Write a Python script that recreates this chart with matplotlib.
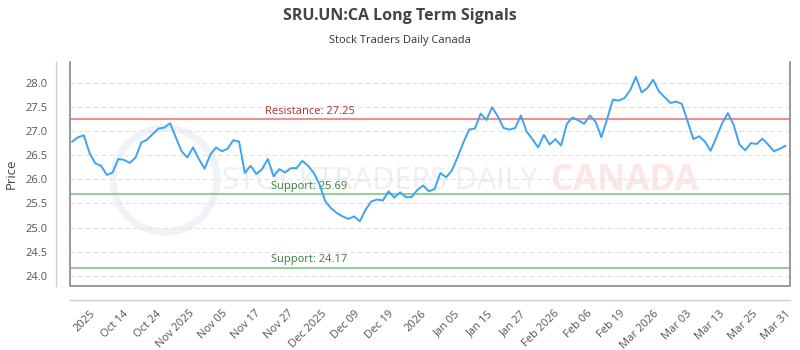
import numpy as np
import matplotlib
matplotlib.use("Agg")
import matplotlib.pyplot as plt
from matplotlib.patches import Circle

plt.rcParams['font.family'] = ['Open Sans', 'DejaVu Sans']

# closing prices, one per trading day (Oct 2025 - Mar 2026)
prices = [
    26.78, 26.87, 26.91, 26.54, 26.33, 26.28, 26.09, 26.14, 26.42, 26.40,
    26.34, 26.45, 26.76, 26.82, 26.94, 27.05, 27.07, 27.16, 26.87, 26.58,
    26.45, 26.66, 26.42, 26.22, 26.51, 26.66, 26.58, 26.63, 26.81, 26.78,
    26.13, 26.28, 26.11, 26.21, 26.42, 26.06, 26.21, 26.14, 26.23, 26.23,
    26.38, 26.28, 26.13, 25.89, 25.54, 25.40, 25.30, 25.23, 25.18, 25.23,
    25.13, 25.37, 25.54, 25.58, 25.56, 25.75, 25.62, 25.73, 25.63, 25.63,
    25.78, 25.87, 25.75, 25.80, 26.13, 26.04, 26.18, 26.46, 26.76, 27.03,
    27.05, 27.36, 27.23, 27.49, 27.30, 27.06, 27.03, 27.06, 27.32, 26.99,
    26.83, 26.66, 26.92, 26.72, 26.83, 26.70, 27.15, 27.28, 27.22, 27.15,
    27.32, 27.19, 26.87, 27.25, 27.65, 27.63, 27.68, 27.84, 28.12, 27.80,
    27.89, 28.06, 27.82, 27.70, 27.58, 27.61, 27.56, 27.20, 26.83, 26.89,
    26.78, 26.59, 26.87, 27.16, 27.37, 27.13, 26.72, 26.60, 26.75, 26.73,
    26.84, 26.72, 26.58, 26.63, 26.69,
]

resistance = 27.25
supports = [25.69, 24.17]

tick_labels = [
    "2025", "Oct 14", "Oct 24", "Nov 2025", "Nov 05", "Nov 17", "Nov 27",
    "Dec 2025", "Dec 09", "Dec 19", "2026", "Jan 05", "Jan 15", "Jan 27",
    "Feb 2026", "Feb 06", "Feb 19", "Mar 2026", "Mar 03", "Mar 13",
    "Mar 25", "Mar 31",
]
y_ticks = [24.0, 24.5, 25.0, 25.5, 26.0, 26.5, 27.0, 27.5, 28.0]

x = np.arange(len(prices))

fig = plt.figure(figsize=(8, 3.5), dpi=100)
ax = fig.add_axes([0.0875, 0.183, 0.9, 0.64])

# outer axis lines (set before ticks: set_position resets the ticks)
ax.spines["top"].set_visible(False)
ax.spines["right"].set_visible(False)
ax.spines["left"].set_position(("outward", 10))
ax.spines["bottom"].set_position(("outward", 10))
for side in ["left", "bottom"]:
    ax.spines[side].set_color("#cccccc")
    ax.spines[side].set_linewidth(1)

# watermark
ax.text(0.43, 0.47, "STOCKTRADERS DAILY", transform=ax.transAxes, fontsize=22,
        color="#eceff4", ha="center", va="center", zorder=0)
ax.text(0.77, 0.47, "CANADA", transform=ax.transAxes, fontsize=25,
        fontweight="bold", color="#fde6e6", ha="center", va="center", zorder=0)
ax.add_patch(Circle((1.65, 1.7), 0.52, transform=fig.dpi_scale_trans,
                    fill=False, lw=5, ec="#eff2f7", zorder=0))

for yt in y_ticks:
    ax.axhline(yt, color="#e2e2e2", lw=0.8, ls=(0, (4, 3)), zorder=1)

ax.axhline(resistance, color="#ee9090", lw=1.5, zorder=2)
ax.text(33.5, resistance + 0.05, f"Resistance: {resistance:.2f}",
        color="#b03030", fontsize=8, va="bottom", ha="left")
for s in supports:
    ax.axhline(s, color="#99cc99", lw=1.5, zorder=2)
    ax.text(34.5, s + 0.05, f"Support: {s:.2f}", color="#3a7d3a",
            fontsize=8, va="bottom", ha="left")

ax.plot(x, prices, color="#3da3f5", lw=1.4, zorder=3)

ax.set_xlim(-0.4, 124.8)
ax.set_ylim(23.79, 28.43)
ax.tick_params(axis="both", length=0, labelsize=8, colors="#555555", pad=6)
ax.set_yticks(y_ticks)
ax.set_yticklabels([f"{v:.1f}" for v in y_ticks])
ax.set_xticks(np.linspace(3, 124, len(tick_labels)))
ax.set_xticklabels(tick_labels, rotation=45, ha="right", rotation_mode="anchor")
ax.set_ylabel("Price", fontsize=9.5, color="#444444", labelpad=6)

# inner frame
ax.plot([0, 0, 1, 1], [1, 0, 0, 1], transform=ax.transAxes, color="#888888",
        lw=1.2, clip_on=False, zorder=4)

fig.text(0.5, 0.955, "SRU.UN:CA Long Term Signals", ha="center", va="center",
         fontsize=11.5, fontweight="bold", color="#444444")
fig.text(0.5, 0.883, "Stock Traders Daily Canada", ha="center", va="center",
         fontsize=8, color="#333333")

fig.savefig("out.png", dpi=100)
